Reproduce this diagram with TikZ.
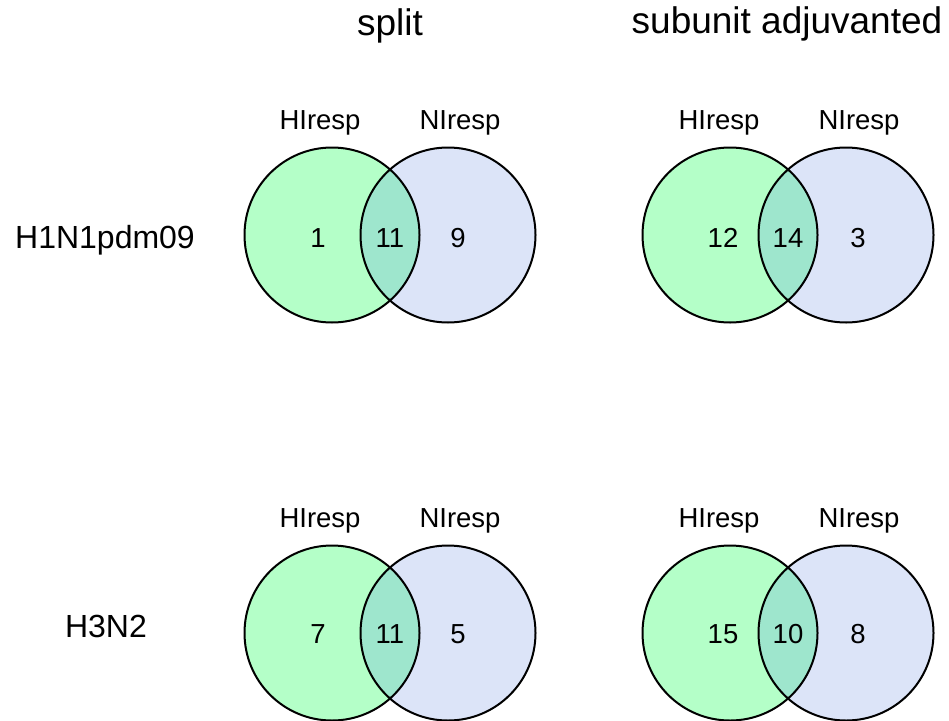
\documentclass[tikz,border=0pt]{standalone}
\usepackage{fontspec}
\setmainfont{Liberation Sans}
\definecolor{vgreen}{RGB}{180,255,200}
\definecolor{vblue}{RGB}{220,228,248}
\definecolor{vteal}{RGB}{158,230,205}
\tikzset{
  vring/.style={circle, draw=black, line width=2pt, minimum size=175pt, inner sep=0pt},
  ttl/.style={inner sep=0pt, anchor=base, font=\fontsize{37}{40}\selectfont},
  setlab/.style={inner sep=0pt, anchor=base, font=\fontsize{27.5}{30}\selectfont},
  rowlab/.style={inner sep=0pt, anchor=base, font=\fontsize{32}{35}\selectfont},
  cnt/.style={inner sep=0pt, anchor=base, font=\fontsize{27.5}{30}\selectfont},
}
\newcommand{\vennpair}[4]{%
  % #1 name prefix, #2 xL, #3 xR, #4 y
  \fill[vgreen] (#2,#4) circle (87.5);
  \fill[vblue] (#3,#4) circle (87.5);
  \begin{scope}
    \clip (#2,#4) circle (87.5);
    \fill[vteal] (#3,#4) circle (87.5);
  \end{scope}
  \node[vring] (#1L) at (#2,#4) {};
  \node[vring] (#1R) at (#3,#4) {};
}
\begin{document}
\begin{tikzpicture}[x=1pt,y=-1pt]
\useasboundingbox (0,0) rectangle (949,720);
\fill[white] (0,0) rectangle (949,720);
% titles
\node[ttl] (tsplit) at (390,35) {split};
\node[ttl] (tsub) at (787,33) {subunit adjuvanted};
% row labels
\node[rowlab] (r1) at (105,248.5) {H1N1pdm09};
\node[rowlab] (r2) at (106,637) {H3N2};
% Venn diagrams
\vennpair{a}{332}{448}{235}
\vennpair{b}{730}{846}{235}
\vennpair{c}{332}{448}{633}
\vennpair{d}{730}{846}{633}
% set labels
\node[setlab] (ah) at (320,129) {HIresp};
\node[setlab] (an) at (460,129) {NIresp};
\node[setlab] (bh) at (719,129) {HIresp};
\node[setlab] (bn) at (859,129) {NIresp};
\node[setlab] (ch) at (320,527) {HIresp};
\node[setlab] (cn) at (460,527) {NIresp};
\node[setlab] (dh) at (719,527) {HIresp};
\node[setlab] (dn) at (859,527) {NIresp};
% counts
\node[cnt] (a1) at (318,247) {1};
\node[cnt] (a2) at (390,247) {11};
\node[cnt] (a3) at (458,247) {9};
\node[cnt] (b1) at (723,247) {12};
\node[cnt] (b2) at (788,247) {14};
\node[cnt] (b3) at (858,247) {3};
\node[cnt] (c1) at (318,643) {7};
\node[cnt] (c2) at (390,643) {11};
\node[cnt] (c3) at (458,643) {5};
\node[cnt] (d1) at (723,643) {15};
\node[cnt] (d2) at (788,643) {10};
\node[cnt] (d3) at (858,643) {8};
\end{tikzpicture}
\end{document}
